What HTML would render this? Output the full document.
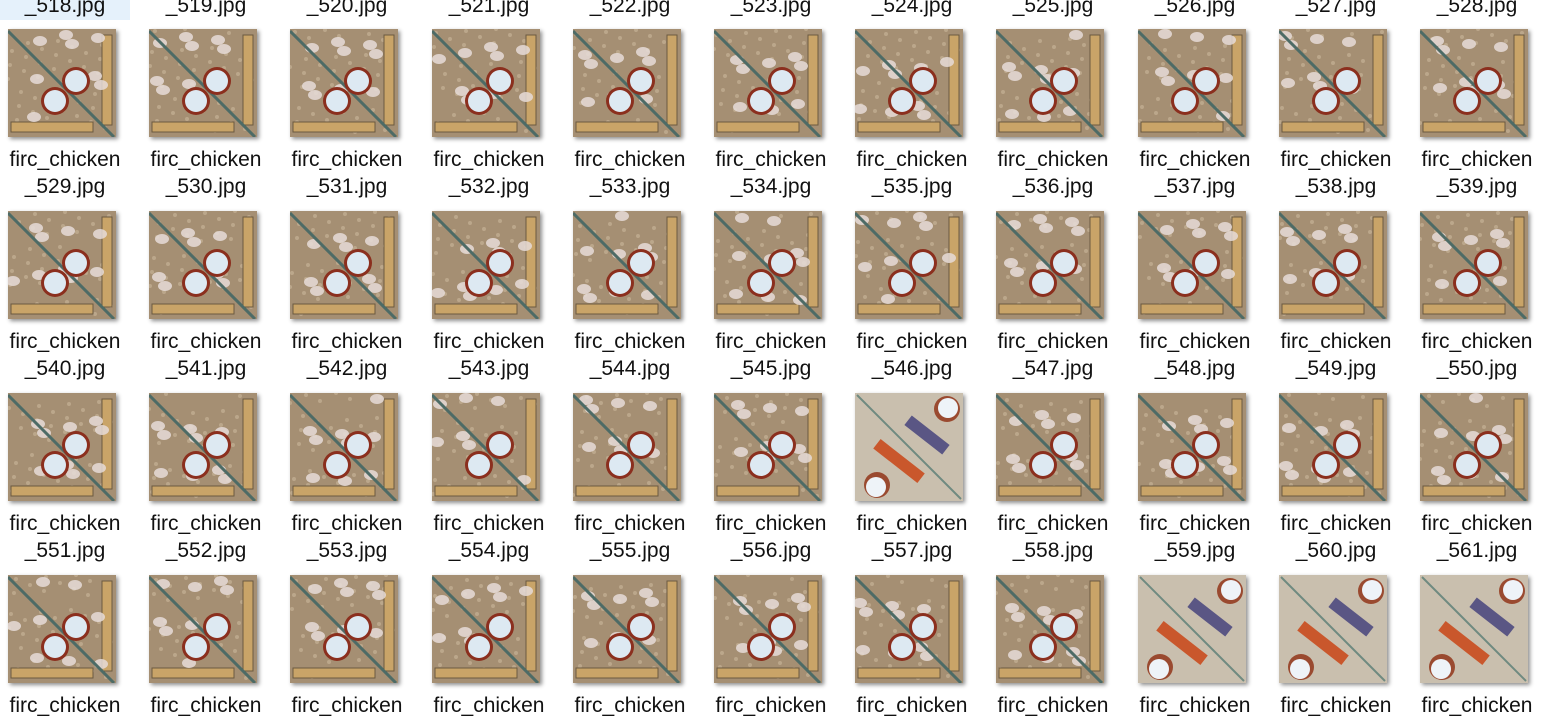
<!DOCTYPE html>
<html><head><meta charset="utf-8">
<style>
html,body{margin:0;padding:0;background:#fff;width:1552px;height:722px;overflow:hidden;position:relative;font-family:"Liberation Sans",sans-serif;}
.item{position:absolute;width:130px;}
.thumb{position:absolute;left:8px;width:108px;height:108px;box-shadow:2px 2px 4px rgba(0,0,0,0.45);}
.lbl{position:absolute;left:0;width:130px;text-align:center;font-size:21px;line-height:27px;color:#111;}
.sel{position:absolute;left:0;top:0;width:130px;height:20px;background:#e5f1fb;}
</style></head><body>
<div class="sel"></div>
<div id="grid"></div>
<script>
const pitchX=141.2, rowTops=[29,211,393,575];
const special=[557,570,571,572];
const grid=document.getElementById('grid');
function normalSvg(n){
  let s='<svg width="108" height="108" viewBox="0 0 108 108">';
  s+='<rect width="108" height="108" fill="#a58f73"/>';
  for(let i=0;i<40;i++){const x=(i*37+n*13)%104,y=(i*53+n*7)%104;s+='<circle cx="'+x+'" cy="'+y+'" r="2" fill="#c4b196" opacity="0.7"/>';}
  s+='<rect x="94" y="6" width="10" height="90" fill="#c9a468" stroke="#6b5a40"/>';
  s+='<rect x="3" y="93" width="82" height="10" fill="#c9a468" stroke="#6b5a40"/>';
  for(let i=0;i<9;i++){const x=(i*29+n*11)%90+5,y=(i*41+n*5)%85+5;s+='<ellipse cx="'+x+'" cy="'+y+'" rx="7" ry="5" fill="#e6dcd8" opacity="0.85"/>';}
  s+='<line x1="0" y1="2" x2="106" y2="108" stroke="#4d6b66" stroke-width="3"/>';
  s+='<circle cx="68" cy="52" r="14" fill="#8b2f1e"/><circle cx="68" cy="52" r="11" fill="#dde9f2"/>';
  s+='<circle cx="47" cy="72" r="14" fill="#8b2f1e"/><circle cx="47" cy="72" r="11" fill="#dde9f2"/>';
  return s+'</svg>';
}
function specialSvg(){
  let s='<svg width="108" height="108" viewBox="0 0 108 108">';
  s+='<rect width="108" height="108" fill="#c9bfae"/>';
  s+='<line x1="2" y1="2" x2="106" y2="106" stroke="#6f8a80" stroke-width="2"/>';
  s+='<g transform="rotate(38 44 68)"><rect x="16" y="62" width="56" height="12" fill="#c9572c"/></g>';
  s+='<g transform="rotate(38 72 42)"><rect x="48" y="36" width="48" height="12" fill="#5a5684"/></g>';
  s+='<circle cx="92" cy="16" r="13" fill="#9a4a30"/><circle cx="93" cy="15" r="10" fill="#eef3f8"/>';
  s+='<circle cx="22" cy="92" r="13" fill="#9a4a30"/><circle cx="21" cy="94" r="10" fill="#eef3f8"/>';
  return s+'</svg>';
}
for(let c=0;c<11;c++){
  const d=document.createElement('div');
  d.className='lbl';
  
  
  d.style.left=Math.round(c*pitchX)+'px';d.style.top='-8px';
  d.textContent='_'+(518+c)+'.jpg';
  grid.appendChild(d);
}
for(let r=0;r<4;r++){
  for(let c=0;c<11;c++){
    const n=529+r*11+c;
    const it=document.createElement('div');
    it.className='item';
    
    
    it.style.left=Math.round(c*pitchX)+'px';it.style.top=rowTops[r]+'px';
    const t=document.createElement('div');
    t.className='thumb';
    
    
    t.style.top='0px';
    t.innerHTML=special.includes(n)?specialSvg():normalSvg(n);
    it.appendChild(t);
    const l=document.createElement('div');
    l.className='lbl';
    
    
    l.style.top='117px';
    l.innerHTML='firc_chicken<br>_'+n+'.jpg';
    it.appendChild(l);
    grid.appendChild(it);
  }
}
</script>
</body></html>
